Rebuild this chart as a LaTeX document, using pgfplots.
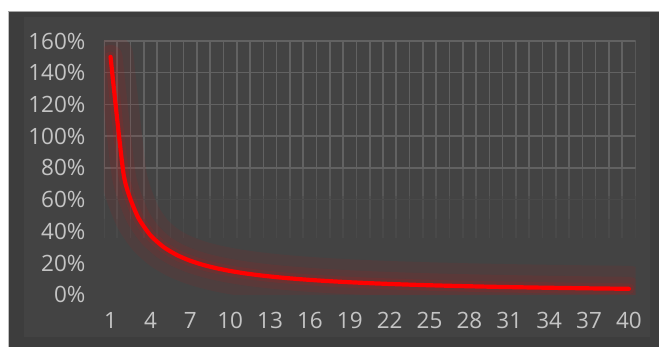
\documentclass[border=0pt]{standalone}
\usepackage{pgfplots}
\pgfplotsset{compat=1.18}
\usepackage{fontspec}
\setmainfont{Open Sans}
\definecolor{panel}{HTML}{434343}
\definecolor{panelout}{HTML}{3D3D3D}
\definecolor{gridc}{HTML}{626262}
\colorlet{gA}{gridc!65!panel}
\colorlet{gB}{gridc!40!panel}
\colorlet{gC}{gridc!20!panel}
\definecolor{labc}{HTML}{C4C4C4}
\begin{document}
\begin{tikzpicture}[x=1pt,y=1pt]
\fill[white] (0,0) rectangle (659,347);
\fill[panelout] (8,0) rectangle (659,335);
\fill[panel] (24,10) rectangle (650,330);
\draw[gray!70, line width=1pt] (8,335.5) -- (659,335.5);
\draw[gray!50, line width=0.8pt] (8.4,0) -- (8.4,335);
\begin{axis}[
  at={(104pt,52pt)}, anchor=south west,
  scale only axis, width=532pt, height=254pt,
  xmin=0.5, xmax=40.5, ymin=0, ymax=160,
  xtick={1,4,...,40},
  ytick={0,20,...,160},
  yticklabels={0\%,20\%,40\%,60\%,80\%,100\%,120\%,140\%,160\%},
  axis line style={draw=none},
  major tick length=0pt,
  /pgf/number format/assume math mode=true,
  ticklabel style={font=\fontsize{22.5}{26}\selectfont, text=labc},
  yticklabel style={xshift=-15pt},
  xticklabel style={yshift=-14pt},
  clip=true,
]
\pgfplotsinvokeforeach{0.5,1.5,...,40.5}{
  \draw[gridc, line width=1.6pt] (#1,160) -- (#1,80);
  \draw[gA, line width=1.6pt] (#1,80) -- (#1,62);
  \draw[gB, line width=1.6pt] (#1,62) -- (#1,48);
  \draw[gC, line width=1.6pt] (#1,48) -- (#1,36);
}
\pgfplotsinvokeforeach{80,100,120,140,160}{
  \draw[gridc, line width=1.6pt] (0.5,#1) -- (40.5,#1);
}
\draw[gC, line width=1.6pt] (0.5,60) -- (40.5,60);
\addplot[red!50!panel, line width=46pt, opacity=0.12, smooth, tension=0.35, line cap=round, line join=round] coordinates {
(1,150)(2,75)(3,50)(4,37.5)(5,30)(6,25)(7,21.43)(8,18.75)(9,16.67)(10,15)
(11,13.64)(12,12.5)(13,11.54)(14,10.71)(15,10)(16,9.375)(17,8.82)(18,8.33)(19,7.89)(20,7.5)
(21,7.14)(22,6.82)(23,6.52)(24,6.25)(25,6)(26,5.77)(27,5.56)(28,5.36)(29,5.17)(30,5)
(31,4.84)(32,4.69)(33,4.55)(34,4.41)(35,4.29)(36,4.17)(37,4.05)(38,3.95)(39,3.85)(40,3.75)};
\addplot[red!50!panel, line width=24pt, opacity=0.15, smooth, tension=0.35, line cap=round, line join=round] coordinates {
(1,150)(2,75)(3,50)(4,37.5)(5,30)(6,25)(7,21.43)(8,18.75)(9,16.67)(10,15)
(11,13.64)(12,12.5)(13,11.54)(14,10.71)(15,10)(16,9.375)(17,8.82)(18,8.33)(19,7.89)(20,7.5)
(21,7.14)(22,6.82)(23,6.52)(24,6.25)(25,6)(26,5.77)(27,5.56)(28,5.36)(29,5.17)(30,5)
(31,4.84)(32,4.69)(33,4.55)(34,4.41)(35,4.29)(36,4.17)(37,4.05)(38,3.95)(39,3.85)(40,3.75)};
\addplot[red!60!panel, line width=11pt, opacity=0.18, smooth, tension=0.35, line cap=round, line join=round] coordinates {
(1,150)(2,75)(3,50)(4,37.5)(5,30)(6,25)(7,21.43)(8,18.75)(9,16.67)(10,15)
(11,13.64)(12,12.5)(13,11.54)(14,10.71)(15,10)(16,9.375)(17,8.82)(18,8.33)(19,7.89)(20,7.5)
(21,7.14)(22,6.82)(23,6.52)(24,6.25)(25,6)(26,5.77)(27,5.56)(28,5.36)(29,5.17)(30,5)
(31,4.84)(32,4.69)(33,4.55)(34,4.41)(35,4.29)(36,4.17)(37,4.05)(38,3.95)(39,3.85)(40,3.75)};
\addplot[red, line width=4.2pt, smooth, tension=0.35, line cap=round, line join=round] coordinates {
(1,150)(2,75)(3,50)(4,37.5)(5,30)(6,25)(7,21.43)(8,18.75)(9,16.67)(10,15)
(11,13.64)(12,12.5)(13,11.54)(14,10.71)(15,10)(16,9.375)(17,8.82)(18,8.33)(19,7.89)(20,7.5)
(21,7.14)(22,6.82)(23,6.52)(24,6.25)(25,6)(26,5.77)(27,5.56)(28,5.36)(29,5.17)(30,5)
(31,4.84)(32,4.69)(33,4.55)(34,4.41)(35,4.29)(36,4.17)(37,4.05)(38,3.95)(39,3.85)(40,3.75)};
\end{axis}
\end{tikzpicture}
\end{document}
